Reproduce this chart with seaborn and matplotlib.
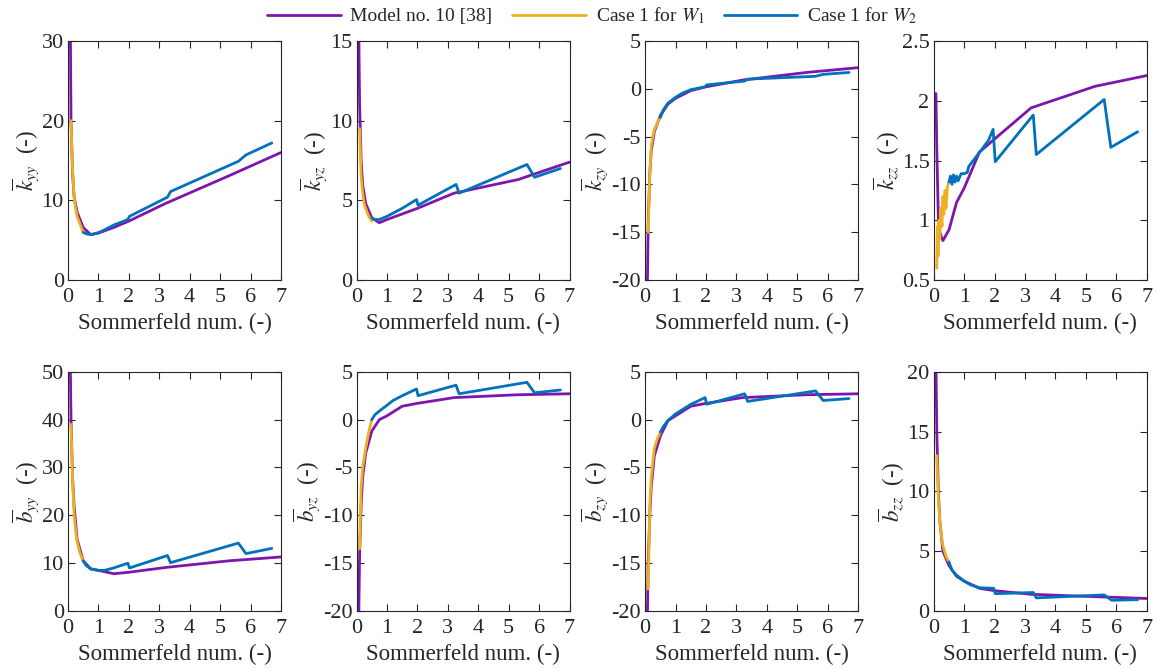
import numpy as np
import pandas as pd
import matplotlib
matplotlib.use("Agg")
import matplotlib.pyplot as plt
from matplotlib.lines import Line2D
import seaborn as sns

# ---------------- data ----------------
x_model = [0.07, 0.1, 0.15, 0.2, 0.3, 0.5, 0.75, 1.0, 1.5, 2.0, 3.2, 5.3, 7.0]
x_w1 = [0.1, 0.15, 0.2, 0.25, 0.3, 0.4, 0.5]
x_w2 = [0.5, 0.6, 0.75, 1.0, 1.2, 1.5, 1.97, 2.02, 3.27, 3.37, 5.6, 5.85, 6.7]

kyy_model = [36, 20, 13.5, 10.5, 8.5, 6.6, 5.7, 5.9, 6.6, 7.4, 9.6, 13.1, 16.0]
kyy_w1 = [20, 14, 10.5, 9.0, 8.0, 7.0, 6.0]
kyy_w2 = [6.0, 5.8, 5.7, 5.95, 6.3, 6.9, 7.6, 8.0, 10.4, 11.1, 14.9, 15.7, 17.2]

kyz_model = [16, 11, 7.5, 6.0, 4.8, 3.9, 3.6, 3.8, 4.15, 4.5, 5.45, 6.3, 7.4]
kyz_w1 = [9.5, 6.5, 5.5, 4.8, 4.5, 4.0, 3.7]
kyz_w2 = [3.9, 3.8, 3.8, 4.0, 4.2, 4.5, 5.05, 4.7, 6.0, 5.45, 7.25, 6.45, 7.0]

kzy_model = [-21, -14, -9, -6.5, -4.5, -2.8, -1.6, -1.0, -0.2, 0.2, 0.9, 1.7, 2.2]
kzy_w1 = [-15, -9, -6, -5, -4.3, -3.6, -3.0]
kzy_w2 = [-3.0, -2.2, -1.5, -0.9, -0.5, -0.1, 0.2, 0.4, 0.8, 1.0, 1.3, 1.5, 1.7]

kzz_model = [2.06, 1.6, 1.02, 0.9, 0.83, 0.92, 1.15, 1.27, 1.57, 1.68, 1.94, 2.12, 2.21]
x_w1_kzz = [0.1, 0.12, 0.14, 0.17, 0.2, 0.23, 0.27, 0.3, 0.33, 0.37, 0.4, 0.45, 0.5]
kzz_w1 = [0.6, 0.95, 0.7, 1.0, 0.85, 1.1, 0.95, 1.2, 1.05, 1.25, 1.1, 1.28, 1.32]
x_w2_kzz = [0.5, 0.55, 0.6, 0.65, 0.7, 0.75, 0.8, 0.9, 1.0, 1.1, 1.15, 1.3, 1.45,
            1.6, 1.8, 1.95, 2.02, 3.27, 3.37, 5.6, 5.82, 6.7]
kzz_w2 = [1.32, 1.37, 1.3, 1.38, 1.32, 1.37, 1.33, 1.39, 1.39, 1.4, 1.45, 1.5, 1.55,
          1.6, 1.67, 1.76, 1.49, 1.88, 1.55, 2.01, 1.61, 1.74]

byy_model = [55, 40, 28, 22, 15, 10.5, 8.8, 8.5, 7.8, 8.1, 9.1, 10.5, 11.3]
byy_w1 = [39, 28, 20, 17, 14.5, 12, 10.5]
byy_w2 = [10.5, 9.5, 8.8, 8.5, 8.5, 9.0, 10.0, 9.0, 11.6, 10.1, 14.2, 12.0, 13.1]

byz_model = [-21, -14, -9, -6, -3.5, -1.2, 0.0, 0.4, 1.4, 1.7, 2.3, 2.6, 2.7]
byz_w1 = [-13.5, -7, -5, -4, -3, -1.3, 0.0]
byz_w2 = [0.0, 0.5, 0.9, 1.5, 2.0, 2.5, 3.2, 2.5, 3.6, 2.7, 3.9, 2.8, 3.1]

bzy_model = [-21, -15, -10, -7, -3.8, -1.7, -0.1, 0.4, 1.4, 1.7, 2.3, 2.6, 2.7]
bzy_w1 = [-17.7, -9, -6, -4.5, -3.0, -2.0, -1.3]
bzy_w2 = [-1.3, -0.7, -0.1, 0.6, 1.0, 1.6, 2.3, 1.6, 2.7, 1.9, 3.0, 2.0, 2.2]

bzz_model = [21, 15, 10, 7.5, 5.0, 3.8, 2.9, 2.5, 1.9, 1.7, 1.4, 1.2, 1.05]
bzz_w1 = [13, 9.5, 7.5, 6.3, 5.5, 4.6, 4.1]
bzz_w2 = [4.1, 3.4, 3.0, 2.5, 2.2, 1.95, 1.9, 1.45, 1.55, 1.1, 1.35, 0.9, 0.95]

ylabels = [r"$\overline{k}_{yy}$", r"$\overline{k}_{yz}$", r"$\overline{k}_{zy}$", r"$\overline{k}_{zz}$",
           r"$\overline{b}_{yy}$", r"$\overline{b}_{yz}$", r"$\overline{b}_{zy}$", r"$\overline{b}_{zz}$"]
ylims = [(0, 30), (0, 15), (-20, 5), (0.5, 2.5), (0, 50), (-20, 5), (-20, 5), (0, 20)]
yticks = [[0, 10, 20, 30], [0, 5, 10, 15], [-20, -15, -10, -5, 0, 5], [0.5, 1, 1.5, 2, 2.5],
          [0, 10, 20, 30, 40, 50], [-20, -15, -10, -5, 0, 5], [-20, -15, -10, -5, 0, 5], [0, 5, 10, 15, 20]]
xticks = [0, 1, 2, 3, 4, 5, 6, 7]

series = [
    (kyy_model, x_w1, kyy_w1, x_w2, kyy_w2),
    (kyz_model, x_w1, kyz_w1, x_w2, kyz_w2),
    (kzy_model, x_w1, kzy_w1, x_w2, kzy_w2),
    (kzz_model, x_w1_kzz, kzz_w1, x_w2_kzz, kzz_w2),
    (byy_model, x_w1, byy_w1, x_w2, byy_w2),
    (byz_model, x_w1, byz_w1, x_w2, byz_w2),
    (bzy_model, x_w1, bzy_w1, x_w2, bzy_w2),
    (bzz_model, x_w1, bzz_w1, x_w2, bzz_w2),
]

legend_labels = ["Model no. 10 [38]", r"Case 1 for $W_1$", r"Case 1 for $W_2$"]
c_model, c_w1, c_w2 = "#7D16AC", "#EDB120", "#0072BD"

# ---------------- style ----------------
sns.set_theme(style="ticks")
plt.rcParams["font.family"] = ["Liberation Serif", "DejaVu Serif"]
plt.rcParams["mathtext.fontset"] = "stix"
plt.rcParams["axes.edgecolor"] = "#262626"
plt.rcParams["xtick.color"] = "#262626"
plt.rcParams["ytick.color"] = "#262626"
plt.rcParams["text.color"] = "#262626"
plt.rcParams["axes.labelcolor"] = "#262626"

fig, axes = plt.subplots(2, 4, figsize=(11.56, 6.70), dpi=100)
fig.subplots_adjust(left=0.0588, right=0.992, top=0.939, bottom=0.088, wspace=0.355, hspace=0.383)

for i, ax in enumerate(axes.flat):
    ym, xw1, yw1, xw2, yw2 = series[i]
    sns.lineplot(x=x_model, y=ym, ax=ax, color=c_model, linewidth=2, sort=False, estimator=None)
    sns.lineplot(x=xw1, y=yw1, ax=ax, color=c_w1, linewidth=2, sort=False, estimator=None)
    sns.lineplot(x=xw2, y=yw2, ax=ax, color=c_w2, linewidth=2, sort=False, estimator=None)
    ax.set_xlim(0, 7)
    ax.set_ylim(*ylims[i])
    ax.set_xticks(xticks)
    ax.set_yticks(yticks[i])
    ax.set_yticklabels([f"{v:g}" for v in yticks[i]])
    ax.tick_params(direction="in", top=True, right=True, labelsize=16, length=5, width=0.8)
    ax.tick_params(axis="x", pad=6)
    ax.tick_params(axis="y", pad=3)
    for s in ax.spines.values():
        s.set_linewidth(0.8)
    ax.set_xlabel("Sommerfeld num. (-)", fontsize=16.5, labelpad=4)
    ax.set_ylabel(ylabels[i] + r"  (-)", fontsize=16.5, labelpad=0)

handles = [Line2D([0], [0], color=c, lw=2) for c in (c_model, c_w1, c_w2)]
fig.legend(handles, legend_labels, loc="upper center", bbox_to_anchor=(0.512, 1.018), ncol=3,
           frameon=False, fontsize=14, handlelength=3.8, columnspacing=1.0, handletextpad=0.5)

fig.savefig("out.png", dpi=100)
